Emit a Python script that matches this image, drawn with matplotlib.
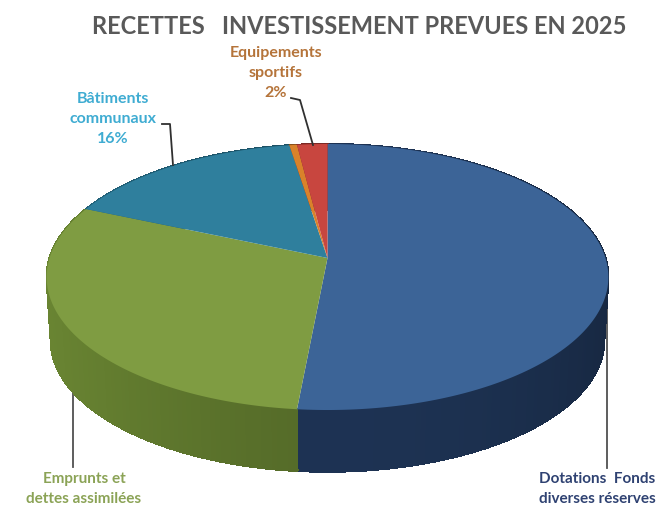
import numpy as np
import matplotlib
matplotlib.use('Agg')
import matplotlib.pyplot as plt

# share of each slice, clockwise from the top of the pie
categories = ['Dotations Fonds diverses réserves', 'Emprunts et dettes assimilées',
	'Bâtiments communaux', 'Autres', 'Equipements sportifs']
values = [51.5, 30, 16, 0.5, 2]
top_colors = ['#3C6497', '#7F9C42', '#2F7F9D', '#D9822B', '#C8463F']
side_colors = ['#1A2D4A', '#5C742C', '#1F5A70', '#9A5A1C', '#8E2F2A']

title = 'RECETTES   INVESTISSEMENT PREVUES EN 2025'

# fake 3D: the disc is tilted, so the far half looks shorter than the near half
cx, cy = 327.5, 258
a, b, k = 278, 130.3, 1/7
depth = 64

def project(theta, shrink=1.0, drop=0):
	u, v = np.sin(theta), np.cos(theta)
	w = 1 + k*v
	return cx + shrink*a*u/w, cy - shrink*b*v/w + drop

fig = plt.figure(figsize=(6.62, 5.11), dpi=100)
ax = fig.add_axes([0, 0, 1, 1])
ax.set_xlim(0, 662)
ax.set_ylim(511, 0)
ax.axis('off')

edges = np.cumsum([0] + values) / sum(values) * 2*np.pi

# wall first, in thin strips so the shading can change along the rim
for i in range(len(values)):
	t = np.linspace(edges[i], edges[i+1], max(int((edges[i+1]-edges[i])*60), 2))
	base = np.array(matplotlib.colors.to_rgb(side_colors[i]))
	for t0, t1 in zip(t[:-1], t[1:]):
		x0, y0 = project(t0)
		x1, y1 = project(t1)
		x2, y2 = project(t1, 0.985, depth)
		x3, y3 = project(t0, 0.985, depth)
		if i == 0:
			light = 1 + 0.12*np.cos((t0-np.pi)*2)
		else:
			light = 1 + 0.14*np.cos((t0-4.55)*1.6)
		c = np.clip(base*light, 0, 1)
		ax.fill([x0, x1, x2, x3], [y0, y1, y2, y3], color=c, lw=0.8, zorder=2, antialiased=False)

# top of the pie
for i in range(len(values)):
	t = np.linspace(edges[i], edges[i+1], 200)
	x, y = project(t)
	ax.fill(np.r_[cx, x], np.r_[cy, y], color=top_colors[i], lw=0, zorder=3)

# leader lines
line_color = '#505050'
ax.plot([162, 170, 173], [124, 124, 165], color='#303030', lw=1.3, zorder=4)
ax.plot([291, 300, 313], [98, 100, 145], color='#303030', lw=1.3, zorder=4)
ax.plot([73, 73], [390, 467], color=line_color, lw=1.3, zorder=1)
ax.plot([607, 607], [290, 468], color=line_color, lw=1.3, zorder=1)

font = 'Lato'
ax.text(359, 27, title, ha='center', va='center', fontsize=17, fontweight='bold', color='#595959', family=font)
ax.text(276, 73, 'Equipements\nsportifs\n2%', ha='center', va='center', fontsize=11.5, fontweight='bold',
	color='#B5743A', family=font, linespacing=1.55)
ax.text(113, 119, 'Bâtiments\ncommunaux\n16%', ha='center', va='center', fontsize=11.5, fontweight='bold',
	color='#3FACD2', family=font, linespacing=1.55)
ax.text(84, 489, 'Emprunts et\ndettes assimilées', ha='center', va='center', fontsize=11, fontweight='bold',
	color='#8BA356', family=font, linespacing=1.6)
ax.text(597, 489, 'Dotations  Fonds\ndiverses réserves', ha='center', va='center', fontsize=11, fontweight='bold',
	color='#2F4272', family=font, linespacing=1.6)

fig.savefig('out.png', dpi=100)
